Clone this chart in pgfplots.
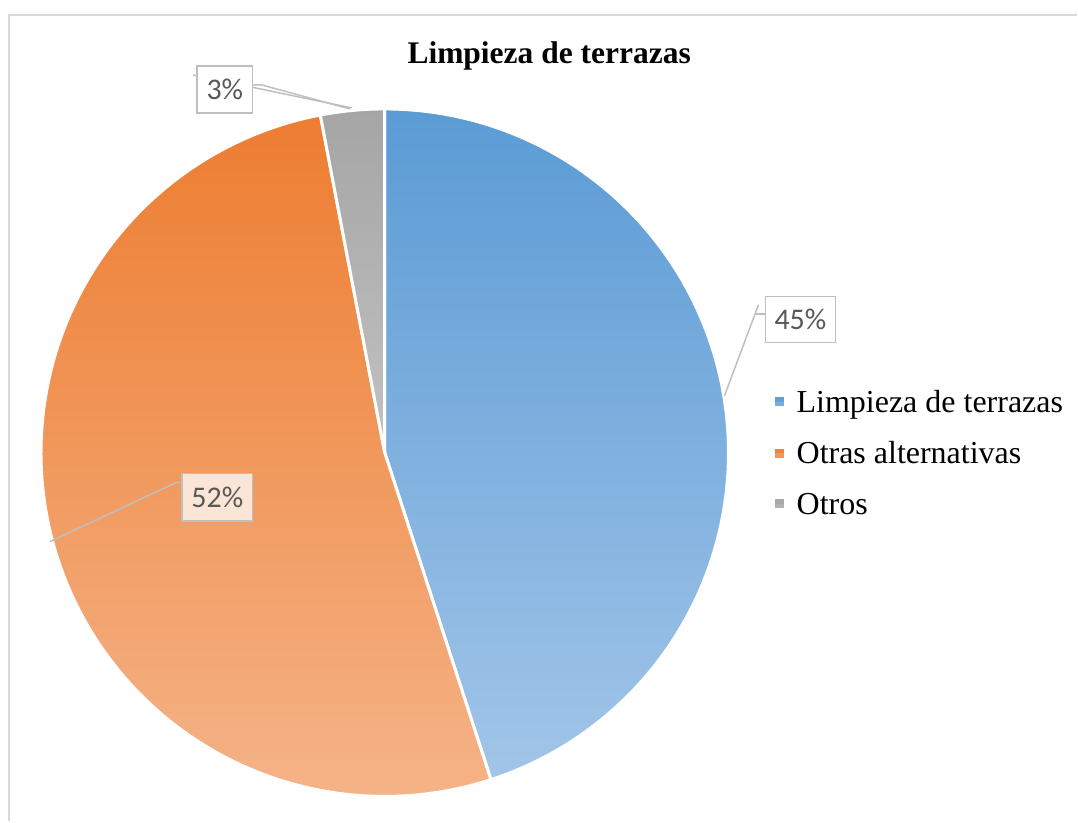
\documentclass[border=0pt]{standalone}
\usepackage{pgfplots}
\pgfplotsset{compat=1.18}
\usepackage{fontspec}
\setmainfont{Liberation Serif}
\newfontfamily\lblfont{Carlito}
\definecolor{blueT}{HTML}{5B9BD5}
\definecolor{blueB}{HTML}{A2C5E8}
\definecolor{oranT}{HTML}{ED7D31}
\definecolor{oranB}{HTML}{F5B387}
\definecolor{grayT}{HTML}{A5A5A5}
\definecolor{grayB}{HTML}{C2C2C2}
\definecolor{lblline}{HTML}{BFBFBF}
\definecolor{lbltext}{HTML}{595959}
\definecolor{framec}{HTML}{D9D9D9}
\definecolor{lblfill}{HTML}{FBE5D6}
\newcommand{\swatch}[2]{\raisebox{10.5pt}{\textcolor{#1}{\rule{9pt}{4.5pt}}}\hspace*{-9pt}\raisebox{6pt}{\textcolor{#2}{\rule{9pt}{4.5pt}}}\hspace*{13pt}}
% data (percent)
\def\vA{45}
\def\vB{52}
\def\vC{3}
\begin{document}
\begin{tikzpicture}
\pgfmathsetmacro{\aA}{0}
\pgfmathsetmacro{\aB}{3.6*\vA}
\pgfmathsetmacro{\aC}{3.6*(\vA+\vB)}
\pgfmathsetmacro{\aD}{3.6*(\vA+\vB+\vC)}
\begin{axis}[
  width=1078pt, height=822pt, scale only axis,
  xmin=0, xmax=1078, ymin=-822, ymax=0,
  hide axis, clip=false, at={(0,0)}, anchor=south west,
  legend style={at={(0.7143,0.528)}, anchor=north west, draw=none, fill=none,
    font=\fontsize{32}{38}\selectfont, row sep=24pt, inner sep=0pt},
  legend cell align=left,
  legend image code/.code={\path (0pt,0pt);},
]
\path (0,0) rectangle (1078,-822);
\draw[framec, line width=1.5pt] (9,-822) -- (9,-15) -- (1078,-15);
\addplot[draw=white, line width=3pt, line join=round, top color=blueT, bottom color=blueB,
  domain=\aA:\aB, samples=120]
  ({385+344*sin(x)},{-453+344*cos(x)}) -- (385,-453) -- cycle;
\addlegendentry{\swatch{blueT!90!blueB}{blueT!55!blueB}Limpieza de terrazas}
\addplot[draw=white, line width=3pt, line join=round, top color=oranT, bottom color=oranB,
  domain=\aB:\aC, samples=140]
  ({385+344*sin(x)},{-453+344*cos(x)}) -- (385,-453) -- cycle;
\addlegendentry{\swatch{oranT!90!oranB}{oranT!55!oranB}Otras alternativas}
\addplot[draw=white, line width=3pt, line join=round, top color=grayT, bottom color=grayB,
  domain=\aC:\aD, samples=20]
  ({385+344*sin(x)},{-453+344*cos(x)}) -- (385,-453) -- cycle;
\addlegendentry{\swatch{grayT!90!grayB}{grayT!55!grayB}Otros}
% title
\node[font=\bfseries\fontsize{31.5}{36}\selectfont, anchor=base] at (549.5,-64) {Limpieza de terrazas};
% leader lines
\draw[lblline, line width=1.5pt] (725,-396) -- (759,-305);
\draw[lblline, line width=1.5pt] (756,-314) -- (766,-314);
\draw[lblline, line width=1.5pt] (193,-75) -- (352,-108);
\draw[lblline, line width=1.5pt] (253,-85) -- (262,-85) -- (350,-109);
\draw[lblline, line width=1.5pt] (50,-542) -- (176,-483) -- (182,-483);
% data labels
\tikzset{dl/.style={draw=lblline, line width=1.3pt, fill=white, text=lbltext,
  font=\lblfont\fontsize{30}{30}\selectfont, inner sep=0pt}}
\node[dl, minimum width=70pt, minimum height=46pt] at (801,-320) {\vA\%};
\node[dl, fill=lblfill, minimum width=71pt, minimum height=48pt] at (217.5,-497.5) {\vB\%};
\node[dl, minimum width=56pt, minimum height=47pt] at (225,-89.5) {\vC\%};
\end{axis}
\end{tikzpicture}
\end{document}
